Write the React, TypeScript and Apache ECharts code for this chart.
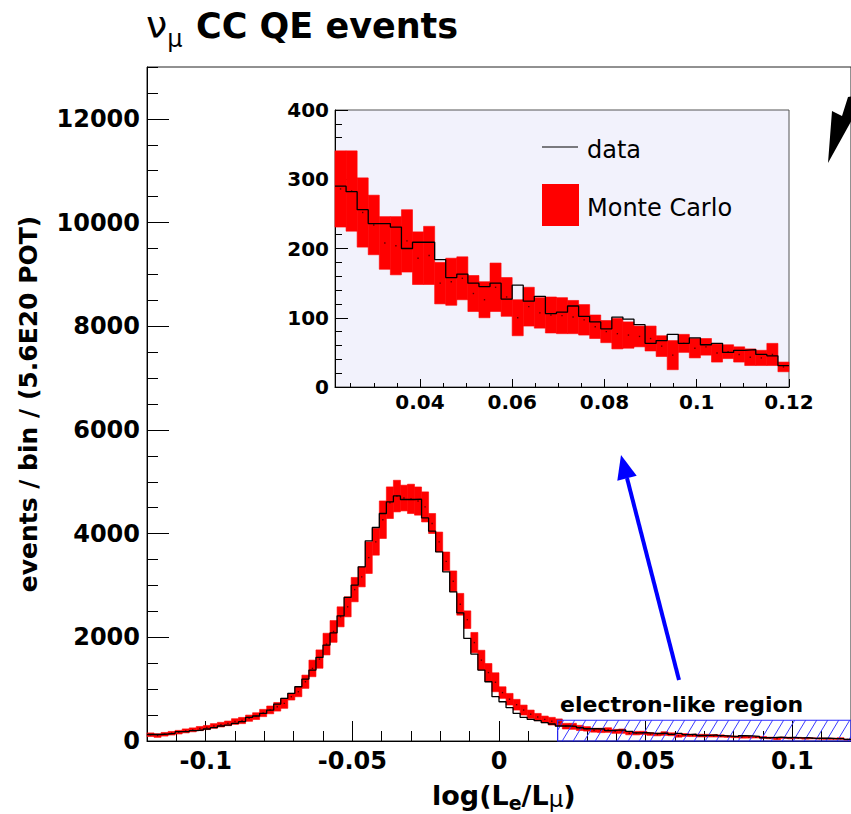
import React, { useEffect, useRef } from 'react';
import * as echarts from 'echarts';

// ---- binning of the histogram (100 bins from -0.12 to 0.12) ----
const BIN_START = -0.12;
const BIN_WIDTH = 0.0024;
const INSET_FIRST_BIN = 59; // inset shows bins from 0.0216 to 0.12

// ---- data histogram (events / bin) ----
const dataCounts = [
  125, 125, 135, 148, 180, 180, 199, 212, 231, 257,
  289, 308, 340, 372, 456, 482, 533, 597, 713, 822,
  919, 1046, 1195, 1368, 1612, 1850, 2087, 2415, 2769, 3006,
  3359, 3860, 4118, 4388, 4611, 4727, 4658, 4658, 4665, 4303,
  4047, 3648, 3263, 2877, 2473, 1979, 1676, 1368, 1143, 854,
  757, 642, 533, 456, 418, 392, 353, 328, 289, 290,
  282, 256, 236, 236, 231, 200, 209, 209, 184, 158,
  163, 150, 145, 150, 127, 147, 124, 131, 106, 108,
  117, 102, 94, 84, 101, 98, 90, 63, 67, 76,
  63, 71, 61, 63, 50, 53, 54, 47, 45, 31,
];

// ---- Monte Carlo central values and errors ----
const mcCenter = [
  121, 105, 130, 150, 170, 195, 215, 240, 260, 290,
  315, 340, 375, 395, 440, 480, 540, 600, 660, 726,
  854, 950, 1143, 1400, 1580, 1869, 2113, 2395, 2588, 2920,
  3166, 3536, 3841, 4268, 4596, 4724, 4686, 4670, 4628, 4515,
  4195, 3840, 3465, 3080, 2637, 2340, 1898, 1560, 1320, 1133,
  934, 806, 700, 597, 517, 462, 417, 382, 356, 286,
  283, 252, 234, 208, 204, 211, 186, 190, 150, 152,
  157, 135, 126, 144, 130, 100, 116, 107, 104, 103,
  101, 97, 87, 80, 77, 75, 73, 70, 59, 46,
  63, 56, 58, 49, 51, 47, 43, 42, 47, 29,
];
const mcError = [
  35, 35, 35, 35, 35, 38, 38, 40, 40, 45,
  45, 45, 55, 60, 60, 65, 70, 75, 83, 96,
  64, 96, 128, 160, 177, 209, 210, 193, 193, 235,
  193, 305, 257, 362, 305, 305, 248, 283, 272, 290,
  193, 190, 180, 200, 210, 170, 196, 190, 175, 183,
  112, 112, 103, 96, 80, 70, 64, 74, 70, 55,
  58, 50, 43, 38, 42, 45, 38, 42, 30, 34,
  31, 26, 26, 35, 28, 26, 28, 22, 26, 26,
  24, 22, 17, 16, 22, 19, 15, 18, 15, 21,
  13, 14, 12, 13, 10, 11, 12, 11, 16, 7,
];

// ---- electron-like region ----
const regionX = [0.02, 0.12];
const regionY = [0, 400];

// ---- tick labels ----
const mainXLabels = [-0.1, -0.05, 0, 0.05, 0.1];
const mainYLabels = [0, 2000, 4000, 6000, 8000, 10000, 12000];
const insetXLabels = [0.04, 0.06, 0.08, 0.1, 0.12];
const insetYLabels = [0, 100, 200, 300, 400];

const range = (a: number, b: number, s: number) => {
  const out: number[] = [];
  const n = Math.round((b - a) / s);
  for (let i = 0; i <= n; i++) out.push(+(a + i * s).toFixed(6));
  return out;
};
const mainXMinor = range(-0.12, 0.12, 0.01);
const mainYMinor = range(0, 13000, 500);
const insetXMinor = range(0.025, 0.12, 0.005);
const insetYMinor = range(0, 400, 20);

const edge = (k: number) => +(BIN_START + k * BIN_WIDTH).toFixed(6);
const mcBoxes = mcCenter.map((c, k) => [edge(k), edge(k + 1), c - mcError[k], c + mcError[k], c]);
const dataStep = dataCounts.map((v, k) => [edge(k), v]).concat([[edge(dataCounts.length), dataCounts[dataCounts.length - 1]]]);
const insetBoxes = mcBoxes.slice(INSET_FIRST_BIN);
const insetStep = dataStep.slice(INSET_FIRST_BIN);

const renderBox = (params: any, api: any) => {
  const x0 = api.value(0), x1 = api.value(1), lo = api.value(2), hi = api.value(3), c = api.value(4);
  const tl = api.coord([x0, hi]);
  const br = api.coord([x1, lo]);
  const pc = api.coord([(x0 + x1) / 2, c]);
  return {
    type: 'group',
    children: [
      { type: 'rect', shape: { x: tl[0], y: tl[1], width: br[0] - tl[0], height: Math.max(br[1] - tl[1], 1) }, style: { fill: '#ff0000', stroke: '#ff0000', lineWidth: 0.6 } },
      { type: 'rect', shape: { x: pc[0] - 0.7, y: pc[1] - 0.7, width: 1.4, height: 1.4 }, style: { fill: '#5a0000' } },
    ],
  };
};

const renderHatch = (params: any, api: any) => {
  const tl = api.coord([api.value(0), api.value(3)]);
  const br = api.coord([api.value(1), api.value(2)]);
  const left = tl[0], top = tl[1], right = br[0], bottom = br[1];
  const h = bottom - top;
  const dxTot = h * 0.6;
  const children: any[] = [];
  for (let xb = left - dxTot + 6; xb < right; xb += 11) {
    let x1 = xb, y1 = bottom, x2 = xb + dxTot, y2 = top;
    if (x1 < left) { const t = (left - x1) / dxTot; x1 = left; y1 = bottom - t * h; }
    if (x2 > right) { const t = (x2 - right) / dxTot; x2 = right; y2 = top + t * h; }
    if (x2 <= x1) continue;
    children.push({ type: 'line', shape: { x1, y1, x2, y2 }, style: { stroke: '#3a3aff', lineWidth: 1 } });
  }
  children.push({ type: 'rect', shape: { x: left, y: top, width: right - left, height: h }, style: { fill: 'none', stroke: '#2a2aff', lineWidth: 1.2 } });
  return { type: 'group', children };
};

const FONT = 'DejaVu Sans';
const fmt = (v: number) => String(v);

function buildOption() {
  const ctx = document.createElement('canvas').getContext('2d')!;
  const tw = (t: string, size: number, weight: string, family = FONT) => {
    ctx.font = `${weight} ${size}px "${family}"`;
    return ctx.measureText(t).width;
  };

  // x-axis title pieces: log(L_e/L_mu)
  const xParts = [
    { t: 'log(L', s: 27, w: 'bold', y: 795.5 },
    { t: 'e', s: 19, w: 'bold', y: 803 },
    { t: '/L', s: 27, w: 'bold', y: 795.5 },
    { t: 'μ', s: 23, w: 'normal', y: 799 },
    { t: ')', s: 27, w: 'bold', y: 795.5 },
  ];
  let cx = 432;
  const xTitle = xParts.map((p) => {
    const el = {
      type: 'text', x: cx, y: p.y, z: 100,
      style: { text: p.t, fontSize: p.s, fontWeight: p.w, fontFamily: FONT, fill: '#000', align: 'left', verticalAlign: 'middle' },
    };
    cx += tw(p.t, p.s, p.w);
    return el;
  });

  const labelStyle = (size: number, margin: number) => ({
    fontFamily: FONT, fontWeight: 'bold', fontSize: size, color: '#000', margin, formatter: fmt,
  });

  const nuW = tw('ν', 38, 'normal');

  const graphic: any[] = [
    // title
    { type: 'text', x: 146, y: 25, z: 100, style: { text: 'ν', fontSize: 38, fontFamily: FONT, fill: '#000', align: 'left', verticalAlign: 'middle' } },
    { type: 'text', x: 146 + nuW, y: 39, z: 100, style: { text: 'μ', fontSize: 24, fontFamily: FONT, fill: '#000', align: 'left', verticalAlign: 'middle' } },
    { type: 'text', x: 196, y: 26, z: 100, style: { text: 'CC QE events', fontSize: 35, fontWeight: 'bold', fontFamily: FONT, fill: '#000', align: 'left', verticalAlign: 'middle' } },
    // y title
    { type: 'text', x: 28, y: 404, rotation: Math.PI / 2, z: 100, style: { text: 'events / bin / (5.6E20 POT)', fontSize: 25, fontWeight: 'bold', fontFamily: FONT, fill: '#000', align: 'center', verticalAlign: 'middle' } },
    ...xTitle,
    // inset legend
    { type: 'line', z: 100, shape: { x1: 542, y1: 147, x2: 578, y2: 147 }, style: { stroke: '#000', lineWidth: 1 } },
    { type: 'text', x: 587, y: 150, z: 100, style: { text: 'data', fontSize: 24, fontFamily: FONT, fill: '#000', align: 'left', verticalAlign: 'middle' } },
    { type: 'rect', z: 100, shape: { x: 542, y: 184, width: 37, height: 42 }, style: { fill: '#ff0000' } },
    { type: 'text', x: 587, y: 208, z: 100, style: { text: 'Monte Carlo', fontSize: 24, fontFamily: FONT, fill: '#000', align: 'left', verticalAlign: 'middle' } },
    // electron-like region label
    { type: 'text', x: 560, y: 704, z: 100, style: { text: 'electron-like region', fontSize: 22, fontWeight: 'bold', fontFamily: FONT, fill: '#000', align: 'left', verticalAlign: 'middle' } },
    // blue arrow
    { type: 'line', z: 100, shape: { x1: 679, y1: 680, x2: 627, y2: 478 }, style: { stroke: '#0000ff', lineWidth: 4 } },
    { type: 'polygon', z: 100, shape: { points: [[621, 455], [636.7, 475.7], [617.3, 480.7]] }, style: { fill: '#0000ff' } },
    // black arrow (top right, cut off)
    { type: 'polygon', z: 100, shape: { points: [[828, 163], [832, 111], [842, 116], [848, 97], [864, 94], [864, 112], [853, 118]] }, style: { fill: '#000' } },
  ];

  return {
    animation: false,
    backgroundColor: '#ffffff',
    grid: [
      { left: 147, top: 67, width: 708, height: 674, show: true, borderColor: '#222', borderWidth: 1, backgroundColor: 'transparent' },
      { left: 335, top: 110, width: 454, height: 277, show: true, borderColor: '#555', borderWidth: 1, backgroundColor: '#f2f2fc' },
    ],
    xAxis: [
      {
        type: 'value', gridIndex: 0, min: -0.12, max: 0.12, position: 'bottom',
        axisLine: { show: true, onZero: false, lineStyle: { color: '#000', width: 1 } },
        axisTick: { show: true, inside: true, length: 20, customValues: mainXLabels, lineStyle: { color: '#000' } },
        axisLabel: { ...labelStyle(24, 8), customValues: mainXLabels },
        splitLine: { show: false },
      },
      {
        type: 'value', gridIndex: 0, min: -0.12, max: 0.12, position: 'bottom',
        axisLine: { show: false, onZero: false },
        axisTick: { show: true, inside: true, length: 10, customValues: mainXMinor, lineStyle: { color: '#000' } },
        axisLabel: { show: false }, splitLine: { show: false },
      },
      {
        type: 'value', gridIndex: 1, min: 0.0216, max: 0.12, position: 'bottom',
        axisLine: { show: true, onZero: false, lineStyle: { color: '#000', width: 1 } },
        axisTick: { show: true, inside: true, length: 8, customValues: insetXLabels, lineStyle: { color: '#000' } },
        axisLabel: { ...labelStyle(20, 5), customValues: insetXLabels },
        splitLine: { show: false },
      },
      {
        type: 'value', gridIndex: 1, min: 0.0216, max: 0.12, position: 'bottom',
        axisLine: { show: false, onZero: false },
        axisTick: { show: true, inside: true, length: 4, customValues: insetXMinor, lineStyle: { color: '#000' } },
        axisLabel: { show: false }, splitLine: { show: false },
      },
    ],
    yAxis: [
      {
        type: 'value', gridIndex: 0, min: 0, max: 13000, position: 'left',
        axisLine: { show: true, onZero: false, lineStyle: { color: '#000', width: 1 } },
        axisTick: { show: true, inside: true, length: 22, customValues: mainYLabels, lineStyle: { color: '#000' } },
        axisLabel: { ...labelStyle(24, 7), customValues: mainYLabels },
        splitLine: { show: false },
      },
      {
        type: 'value', gridIndex: 0, min: 0, max: 13000, position: 'left',
        axisLine: { show: false, onZero: false },
        axisTick: { show: true, inside: true, length: 11, customValues: mainYMinor, lineStyle: { color: '#000' } },
        axisLabel: { show: false }, splitLine: { show: false },
      },
      {
        type: 'value', gridIndex: 1, min: 0, max: 400, position: 'left',
        axisLine: { show: true, onZero: false, lineStyle: { color: '#000', width: 1 } },
        axisTick: { show: true, inside: true, length: 13, customValues: insetYLabels, lineStyle: { color: '#000' } },
        axisLabel: { ...labelStyle(20, 6), customValues: insetYLabels },
        splitLine: { show: false },
      },
      {
        type: 'value', gridIndex: 1, min: 0, max: 400, position: 'left',
        axisLine: { show: false, onZero: false },
        axisTick: { show: true, inside: true, length: 7, customValues: insetYMinor, lineStyle: { color: '#000' } },
        axisLabel: { show: false }, splitLine: { show: false },
      },
    ],
    series: [
      { type: 'custom', name: 'Monte Carlo', xAxisIndex: 0, yAxisIndex: 0, data: mcBoxes, encode: { x: [0, 1], y: [2, 3] }, renderItem: renderBox, z: 2 },
      { type: 'custom', name: 'electron-like region', xAxisIndex: 0, yAxisIndex: 0, data: [[regionX[0], regionX[1], regionY[0], regionY[1]]], encode: { x: [0, 1], y: [2, 3] }, renderItem: renderHatch, z: 3 },
      { type: 'line', name: 'data', xAxisIndex: 0, yAxisIndex: 0, data: dataStep, step: 'end', symbol: 'none', showSymbol: false, lineStyle: { color: '#000', width: 1.3 }, z: 4 },
      { type: 'custom', name: 'Monte Carlo (inset)', xAxisIndex: 2, yAxisIndex: 2, data: insetBoxes, encode: { x: [0, 1], y: [2, 3] }, renderItem: renderBox, z: 5 },
      { type: 'line', name: 'data (inset)', xAxisIndex: 2, yAxisIndex: 2, data: insetStep, step: 'end', symbol: 'none', showSymbol: false, lineStyle: { color: '#000', width: 1.3 }, z: 6 },
    ],
    graphic,
  };
}

export default function App() {
  const ref = useRef<HTMLDivElement>(null);
  useEffect(() => {
    document.body.style.margin = '0';
    const chart = echarts.init(ref.current!, null, { renderer: 'svg' });
    chart.setOption(buildOption() as any);
    return () => chart.dispose();
  }, []);
  return <div ref={ref} style={{ position: 'absolute', left: 0, top: 0, width: 851, height: 814 }} />;
}
